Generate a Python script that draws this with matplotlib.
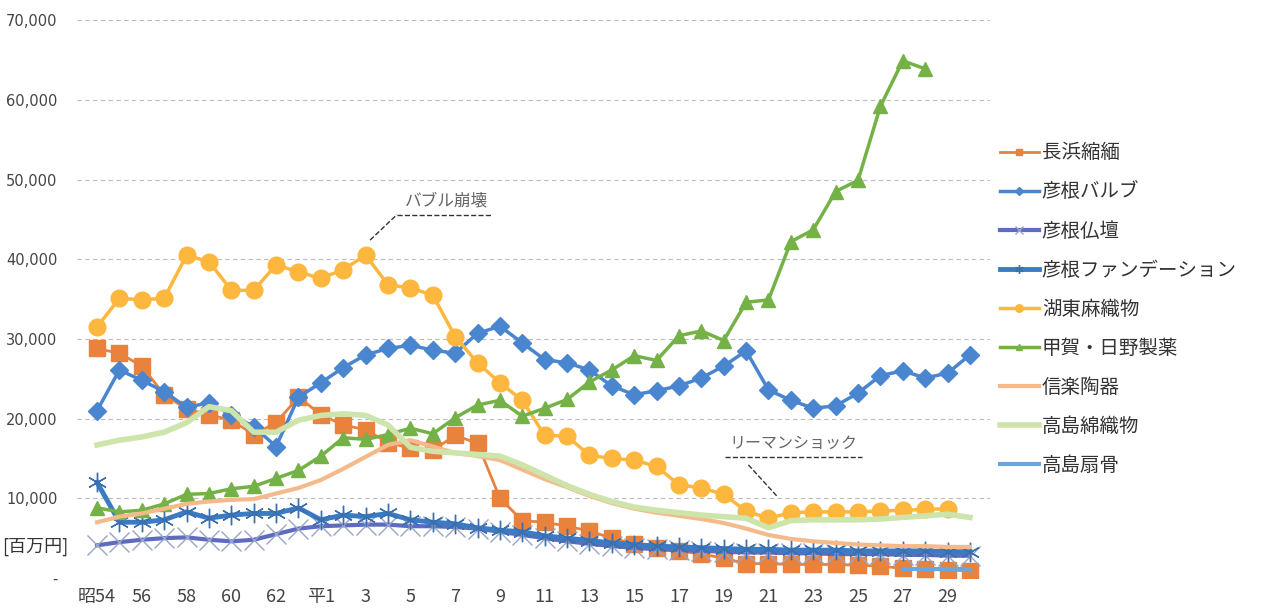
import numpy as np
import matplotlib
matplotlib.use('Agg')
import matplotlib.pyplot as plt
from matplotlib.ticker import FuncFormatter

plt.rcParams['font.family'] = ['Noto Sans CJK JP', 'DejaVu Sans']

nan = np.nan

# 年次 (昭54 〜 平30)
years = list(range(40))
tick_pos = list(range(0, 40, 2))
tick_labels = ['昭54', '56', '58', '60', '62', '平1', '3', '5', '7', '9',
               '11', '13', '15', '17', '19', '21', '23', '25', '27', '29']

# 生産額 [百万円]
nagahama = [28800, 28200, 26600, 23000, 21200, 20500, 19800, 18000, 19500, 22700,
            20500, 19200, 18600, 17000, 16300, 16000, 17900, 16900, 10000, 7200,
            7000, 6500, 5900, 5000, 4300, 3800, 3400, 3000, 2500, 1800,
            1800, 1700, 1700, 1700, 1600, 1500, 1200, 1100, 1000, 900]
hikone_valve = [21000, 26100, 24800, 23400, 21400, 22000, 20500, 19000, 16500, 22700,
                24500, 26400, 28000, 28800, 29200, 28600, 28200, 30700, 31600, 29500,
                27400, 27000, 26100, 24100, 23000, 23500, 24100, 25100, 26600, 28500,
                23600, 22300, 21300, 21600, 23200, 25400, 26000, 25100, 25700, 28000]
hikone_butsudan = [4100, 4500, 4800, 5000, 5100, 4800, 4600, 4800, 5500, 6200,
                   6500, 6600, 6700, 6700, 6500, 6500, 6400, 6200, 5800, 5400,
                   5000, 4600, 4300, 4000, 3800, 3600, 3500, 3400, 3300, 3200,
                   3200, 3100, 3100, 3000, 3000, 3000, 2900, 2900, 2800, 2800]
hikone_found = [12000, 7000, 7000, 7300, 8300, 7500, 7900, 8100, 8100, 8800,
                7300, 7900, 7700, 8100, 7300, 7000, 6800, 6300, 6000, 5800,
                5300, 5000, 4700, 4400, 4200, 4000, 3900, 3800, 3700, 3600,
                3600, 3500, 3500, 3500, 3400, 3400, 3400, 3400, 3300, 3300]
koto_asa = [31500, 35100, 34900, 35100, 40500, 39700, 36100, 36100, 39300, 38400,
            37600, 38700, 40500, 36800, 36400, 35500, 30300, 27000, 24500, 22300,
            17900, 17800, 15400, 15000, 14800, 14000, 11700, 11300, 10500, 8400,
            7500, 8200, 8300, 8300, 8300, 8400, 8500, 8600, 8700, nan]
koka_hino = [8800, 8300, 8500, 9300, 10500, 10600, 11200, 11500, 12500, 13500,
             15300, 17600, 17400, 18000, 18800, 18100, 20100, 21700, 22300, 20300,
             21300, 22400, 24600, 26100, 27900, 27300, 30400, 31000, 29800, 34600,
             34900, 42200, 43700, 48500, 49900, 59200, 64900, 63900, nan, nan]
shigaraki = [7000, 7700, 8100, 8700, 9300, 9600, 9800, 9900, 10600, 11300,
             12300, 13700, 15200, 16700, 17300, 16500, 15700, 15300, 14800, 13600,
             12400, 11400, 10300, 9400, 8700, 8200, 7800, 7400, 6900, 6200,
             5400, 4900, 4600, 4400, 4200, 4100, 4000, 4000, 3900, 3900]
takashima_men = [16700, 17300, 17700, 18300, 19500, 21500, 21000, 18300, 18300, 19800,
                 20400, 20600, 20400, 19200, 16400, 15900, 15700, 15500, 15300, 14200,
                 12900, 11600, 10500, 9600, 8900, 8500, 8200, 7900, 7700, 7500,
                 6300, 7200, 7300, 7300, 7300, 7400, 7600, 7800, 8000, 7600]
takashima_sen = [nan] * 36 + [1100, 1100, 1100, 1100]

series = [
    ('長浜縮緬', nagahama, dict(color='#E8823C', marker='s', ms=11, lw=2)),
    ('彦根バルブ', hikone_valve, dict(color='#4A85D0', marker='D', ms=9, lw=2.5)),
    ('彦根仏壇', hikone_butsudan, dict(color='#5E6CC0', marker='x', ms=14, mew=1,
                                    mec='#9AA3C8', lw=3)),
    ('彦根ファンデーション', hikone_found, dict(color='#3A7CC4', marker=(6, 2, 0), ms=14,
                                        mew=1, mec='#3A6FB0', lw=3.5)),
    ('湖東麻織物', koto_asa, dict(color='#FDB73E', marker='o', ms=12, lw=2.5)),
    ('甲賀・日野製薬', koka_hino, dict(color='#74B247', marker='^', ms=10, lw=2.5)),
    ('信楽陶器', shigaraki, dict(color='#F5BA8C', lw=3)),
    ('高島綿織物', takashima_men, dict(color='#CDE4AA', lw=4)),
    ('高島扇骨', takashima_sen, dict(color='#6BA6DC', lw=3)),
]

fig = plt.figure(figsize=(12.69, 6.11), dpi=100)
ax = fig.add_axes([0.0606, 0.054, 0.7196, 0.913])

for name, vals, kw in series:
    ax.plot(years, vals, label=name, **kw)

ax.set_xlim(-0.9, 39.9)
ax.set_ylim(0, 70000)
ax.set_yticks(range(0, 70001, 10000))
ax.yaxis.set_major_formatter(FuncFormatter(lambda v, p: '-' if v == 0 else f'{int(v):,}'))
ax.set_xticks(tick_pos)
ax.set_xticklabels(tick_labels)
ax.tick_params(axis='both', length=0, colors='#444444')
ax.tick_params(axis='y', labelsize=10.5, pad=14)
ax.tick_params(axis='x', labelsize=13, pad=7)
for t in ax.get_yticklabels():
    t.set_family('DejaVu Sans')
ax.grid(axis='y', color='#bbbbbb', lw=0.8, ls=(0, (4, 3)))
ax.set_axisbelow(True)
for s in ax.spines.values():
    s.set_visible(False)

fig.text(2 / 1269, 1 - 547 / 611, '[百万円]', fontsize=13, color='#333333', va='center')

# 注記
ax.plot([12.2, 13.4], [42400, 45600], ls='--', color='#333333', lw=1)
ax.plot([13.4, 17.6], [45600, 45600], ls='--', color='#333333', lw=1)
ax.text(15.6, 46300, 'バブル崩壊', fontsize=12, color='#666666', ha='center', va='bottom')

ax.plot([28.05, 34.2], [15200, 15200], ls='--', color='#333333', lw=1)
ax.plot([29.1, 30.4], [14200, 10200], ls='--', color='#333333', lw=1)
ax.text(31.1, 15800, 'リーマンショック', fontsize=11.5, color='#666666', ha='center', va='bottom')

leg = fig.legend(loc='upper left', bbox_to_anchor=(0.788, 0.767), frameon=False,
                 fontsize=14, handlelength=2.0, handletextpad=0.15, labelspacing=0.93,
                 markerscale=0.45, borderaxespad=0, borderpad=0)
for t in leg.get_texts():
    t.set_color('#333333')

fig.savefig('out.png', dpi=100)
